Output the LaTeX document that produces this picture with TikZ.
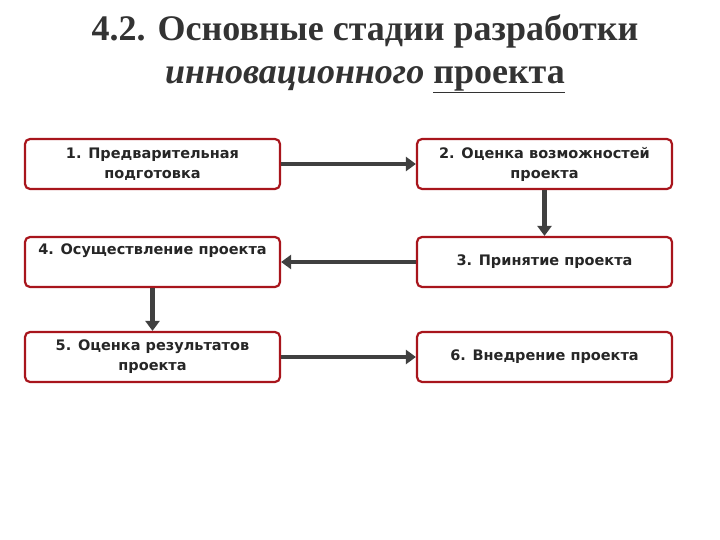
\documentclass[tikz,border=0pt]{standalone}
\usepackage{fontspec}
\setmainfont{Liberation Serif}
\newfontfamily\boxfont{DejaVu Sans Bold}
\usetikzlibrary{arrows.meta}
\definecolor{bred}{HTML}{A8151C}
\definecolor{agray}{HTML}{404040}
\tikzset{
 stagetext/.style={font=\boxfont\fontsize{14.5}{20}\selectfont,text=black!85},
 stage/.style={stagetext,draw=bred,line width=2.2pt,rounded corners=5pt,fill=white,minimum width=255pt,minimum height=50pt,align=center,inner sep=2pt},
 conn/.style={draw=agray,line width=4.5pt,-{Triangle[length=10pt,width=14pt]}}
}
\begin{document}
\begin{tikzpicture}[x=1pt,y=-1pt]
\useasboundingbox (0,0) rectangle (720,540);
\node[font=\bfseries\fontsize{36}{43}\selectfont,text=black!80,align=center] (title) at (365,54) {4.2. Основные стадии разработки\\\textit{инновационного} \underline{проекта}};
\node[stage] (s1) at (152.5,164) {1. Предварительная\\подготовка};
\node[stage] (s2) at (544.5,164) {2. Оценка возможностей\\проекта};
\node[stage] (s3) at (544.5,262) {3. Принятие проекта};
\node[stage] (s4) at (152.5,262) {};
\node[stagetext] (t4) at (152.5,251) {4. Осуществление проекта};
\node[stage] (s5) at (152.5,357) {5. Оценка результатов\\проекта};
\node[stage] (s6) at (544.5,357) {6. Внедрение проекта};
\draw[conn] (s1.east) -- (s1.east -| s2.west);
\draw[conn] (s2.south) -- (s2.south |- s3.north);
\draw[conn] (s3.west) -- (s3.west -| s4.east);
\draw[conn] (s4.south) -- (s4.south |- s5.north);
\draw[conn] (s5.east) -- (s5.east -| s6.west);
\end{tikzpicture}
\end{document}
